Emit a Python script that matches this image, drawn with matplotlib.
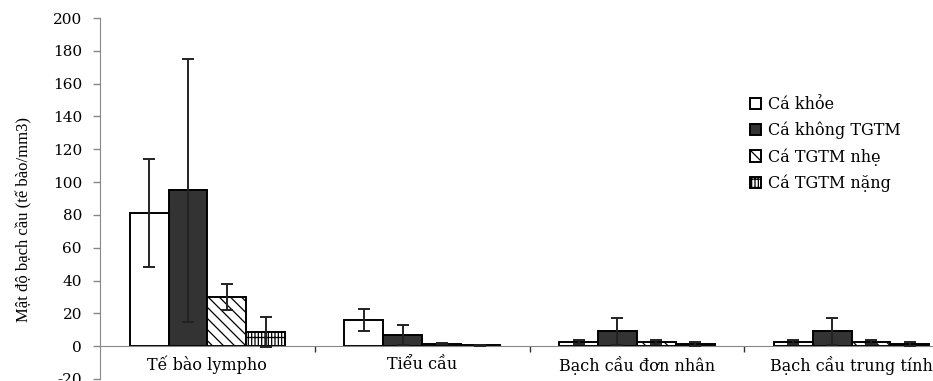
import matplotlib
matplotlib.use("Agg")
import matplotlib.pyplot as plt
import numpy as np

plt.rcParams['hatch.linewidth'] = 0.9
plt.rcParams['axes.unicode_minus'] = False

categories = ["Tế bào lympho", "Tiểu cầu", "Bạch cầu đơn nhân", "Bạch cầu trung tính"]
series_names = ["Cá khỏe", "Cá không TGTM", "Cá TGTM nhẹ", "Cá TGTM nặng"]
values = {
    "Cá khỏe":       [81, 16, 2.5, 2.5],
    "Cá không TGTM": [95, 7, 9, 9],
    "Cá TGTM nhẹ":   [30, 1.6, 2.5, 2.6],
    "Cá TGTM nặng":  [8.5, 0.5, 1.4, 1.4],
}
errors = {
    "Cá khỏe":       [33, 6.7, 1.2, 1.2],
    "Cá không TGTM": [80, 6, 8, 8],
    "Cá TGTM nhẹ":   [8, 0.5, 1.0, 1.2],
    "Cá TGTM nặng":  [9, 0.3, 1.0, 1.0],
}
yticks = [-20, 0, 20, 40, 60, 80, 100, 120, 140, 160, 180, 200]

styles = [
    dict(facecolor="white", hatch=None),
    dict(facecolor="#333333", hatch=None),
    dict(facecolor="white", hatch="\\\\\\"),
    dict(facecolor="white", hatch="|||||--"),
]

fig = plt.figure(figsize=(9.33, 3.81), dpi=100)
ax = fig.add_axes([100/933, 2/381, (959-100)/933, (379-18)/381])

x = np.arange(len(categories))
w = 0.181
gray = "#888888"
for i, name in enumerate(series_names):
    st = styles[i]
    pos = x + (i - 1.5) * w
    ax.bar(pos, values[name], width=w, facecolor=st["facecolor"], edgecolor="black",
           linewidth=1.4, hatch=st["hatch"], label=name, zorder=2)
    ax.errorbar(pos, values[name], yerr=errors[name], fmt="none", ecolor="#222222",
                elinewidth=1.4, capsize=4, capthick=1.4, zorder=3)

ax.set_xlim(-0.5, 3.5)
ax.set_ylim(-20, 200)
ax.set_yticks(yticks)
ax.tick_params(axis="y", direction="out", length=5, width=1, color=gray, pad=8,
               labelsize=11)
for lab in ax.get_yticklabels():
    lab.set_family("DejaVu Serif")

ax.spines["top"].set_visible(False)
ax.spines["right"].set_visible(False)
ax.spines["left"].set_color(gray)
ax.spines["bottom"].set_color(gray)
ax.spines["bottom"].set_position(("data", 0))

ax.set_xticks(np.arange(0.5, 3.5, 1.0))
ax.set_xticklabels([])
ax.set_xticks(x, minor=True)
ax.set_xticklabels(categories, minor=True, family="DejaVu Serif", fontsize=11.5)
ax.tick_params(axis="x", which="major", direction="out", length=4, width=1, color="#333333")
ax.tick_params(axis="x", which="minor", length=0, pad=7)

fig.text(24/933, 1 - 219/381, "Mật độ bạch cầu (tế bào/mm3)", rotation=90,
         ha="center", va="center", family="Liberation Serif", fontsize=12)

leg = ax.legend(loc="upper left", bbox_to_anchor=(750/933, 1 - 96/381),
                bbox_transform=fig.transFigure, frameon=False, borderpad=0,
                borderaxespad=0, handlelength=0.7, handleheight=0.7,
                handletextpad=0.4, labelspacing=0.55,
                prop={"family": "DejaVu Serif", "size": 11.5})

fig.savefig("out.png", dpi=100)
